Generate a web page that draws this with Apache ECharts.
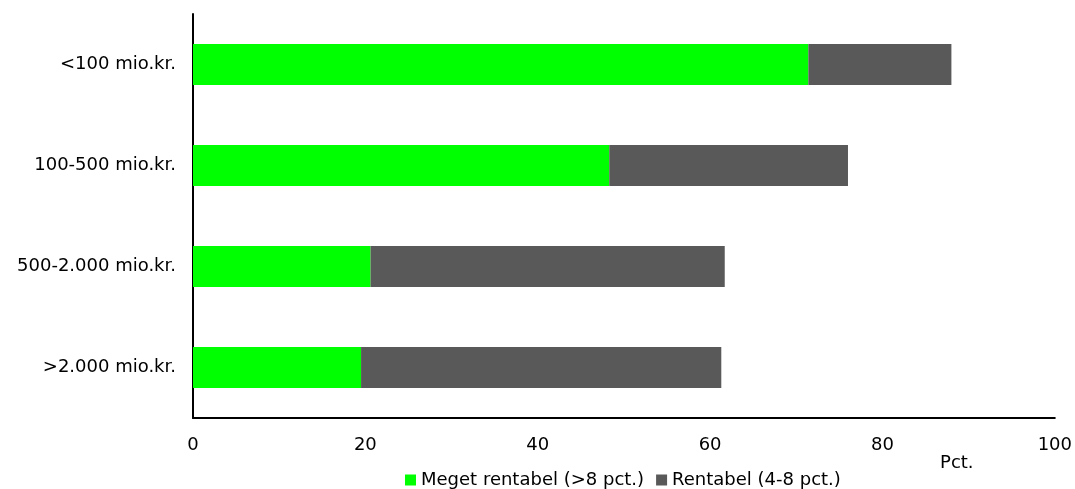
<!DOCTYPE html>
<html>
<head>
<meta charset="utf-8">
<script src="https://cdn.jsdelivr.net/npm/echarts@6/dist/echarts.min.js"></script>
<style>
html,body{margin:0;padding:0;background:#fff;}
#c{width:1075px;height:489px;}
</style>
</head>
<body>
<div id="c"></div>
<script>
var categories = ['<100 mio.kr.', '100-500 mio.kr.', '500-2.000 mio.kr.', '>2.000 mio.kr.'];
var seriesNames = ['Meget rentabel (>8 pct.)', 'Rentabel (4-8 pct.)'];
var megetRentabel = [71.4, 48.3, 20.6, 19.5];
var rentabel = [16.6, 27.7, 41.1, 41.8];
var xTicks = [0, 20, 40, 60, 80, 100];
var axisName = 'Pct.';

var FONT = 'DejaVu Sans';
var chart = echarts.init(document.getElementById('c'), null, {renderer: 'canvas'});
chart.setOption({
  animation: false,
  backgroundColor: '#ffffff',
  textStyle: {fontFamily: FONT},
  grid: {left: 193, right: 19, top: 14, bottom: 71, containLabel: false},
  legend: {
    data: seriesNames,
    left: 400,
    top: 466,
    icon: 'rect',
    itemWidth: 11,
    itemHeight: 11,
    itemGap: 12,
    textStyle: {fontFamily: FONT, fontSize: 18, color: '#000'}
  },
  xAxis: {
    type: 'value',
    min: xTicks[0],
    max: xTicks[xTicks.length - 1],
    interval: xTicks[1] - xTicks[0],
    name: axisName,
    nameLocation: 'end',
    nameGap: -98,
    nameTextStyle: {fontFamily: FONT, fontSize: 18, color: '#000', align: 'center', verticalAlign: 'top', padding: [36, 0, 0, 0]},
    axisLine: {show: true, lineStyle: {color: '#000', width: 2}},
    axisTick: {show: false},
    splitLine: {show: false},
    axisLabel: {fontFamily: FONT, fontSize: 18, color: '#000', margin: 18}
  },
  yAxis: {
    type: 'category',
    data: categories,
    inverse: true,
    axisLine: {show: true, lineStyle: {color: '#000', width: 2}},
    axisTick: {show: false},
    splitLine: {show: false},
    axisLabel: {fontFamily: FONT, fontSize: 18, color: '#000', margin: 17}
  },
  series: [
    {name: seriesNames[0], type: 'bar', stack: 'a', data: megetRentabel, barWidth: 41, itemStyle: {color: '#00ff00'}},
    {name: seriesNames[1], type: 'bar', stack: 'a', data: rentabel, barWidth: 41, itemStyle: {color: '#595959'}}
  ]
});
</script>
</body>
</html>
